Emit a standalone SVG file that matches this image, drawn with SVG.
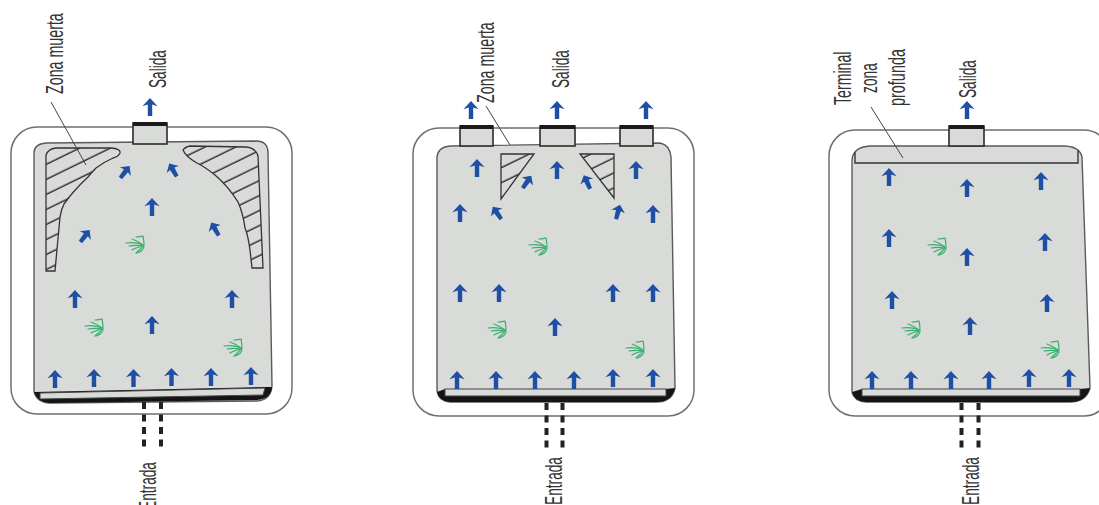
<svg xmlns="http://www.w3.org/2000/svg" width="1099" height="505" viewBox="0 0 1099 505">
<style>
.outer{fill:#fff;stroke:#6f6f6f;stroke-width:1.5}
.body{fill:#d9dbd8;stroke:#5a5a5a;stroke-width:1.4}
.port{fill:#d9dbd8;stroke:#2b2b2b;stroke-width:1.6}
.cap{fill:#1a1a1a}
.base{fill:#141414}
.strip{fill:#d9dbd8;stroke:#444;stroke-width:1}
.zone{fill:url(#hatch);stroke:#333;stroke-width:1.3}
.term{fill:#d9dbd8;stroke:#333;stroke-width:1.4}
.lead{fill:none;stroke:#444;stroke-width:1}
.pipe{fill:none;stroke:#222;stroke-width:4;stroke-dasharray:7 5.5}
.arrow{fill:#1f4ea5}
.tuft{fill:none;stroke:#35b06c;stroke-width:1.2;stroke-linecap:round}
text{font-family:"Liberation Sans",Arial,sans-serif;font-size:23px;fill:#333}
</style>
<defs>
<path id="up" d="M0-9 L7.6-.8 L2.2-2.4 L2.2 9 L-2.200 9 L-2.200-2.400 L-7.600-.8Z"/>
<path id="tilt" d="M0-7.500 L7-.5 L2.500-1.500 L2 7.500 L-2 7.500 L-2.500-1.500 L-7-.5Z"/>
<g id="gr">
<path d="M-9-2 C-3-3 3-2 8 0"/>
<path d="M-3-6 C0-5 4-3 8 0"/>
<path d="M-6 1 C-1 0 3 0 8 1"/>
<path d="M-3 5 C0 3 4 2 8 1"/>
<path d="M1 8 C3 6 6 4 8 1"/>
<path d="M1-8 C4-8 7-9 8-9 C9-5 9-2 9 1 C9 4 6 7 2 8"/>
</g>
<pattern id="hatch" width="40" height="13.500" patternUnits="userSpaceOnUse" patternTransform="rotate(-26)">
<rect width="40" height="13.500" fill="#d9dbd8"/>
<line x1="0" y1="6" x2="40" y2="6" stroke="#2e2e2e" stroke-width="1.3"/>
</pattern>
</defs>
<rect width="1099" height="505" fill="#fff"/>

<g id="tank-1">
<rect class="outer" x="11" y="127" width="281" height="287" rx="26"/>
<path class="body" d="M34 153 Q34 144 46 143 L256 141 Q268 141 268 153 L272 386 Q271 400 257 401 L50 403 Q36 402 34 391Z"/>
<path class="base" d="M34 392 L265 387 L272 387 Q271 399 257 400 L50 403 Q37 402 34 392Z"/>
<path class="strip" d="M40 393 L265 388 L263 395 L40 399Z"/>
<g id="t1-dead-left"><path class="zone" d="M46 155 Q48 149 56 148 L112 148 Q121 149 120 153 Q118 157 113 158 Q104 162 96 168 Q92 172 88 177 Q74 190 64 204 Q61 210 60 217 L55 271 L46 271Z"/></g>
<g id="t1-dead-right"><path class="zone" d="M183 150 Q185 147 190 146 L246 147 Q256 148 258 156 L263 268 L252 268 L250 250 Q248 235 245 228 Q243 213 238 202 Q228 186 215 175 Q205 167 197 163 Q186 157 183 150Z"/></g>
<g id="t1-outlet"><rect class="port" x="133" y="123" width="34" height="21"/><rect class="cap" x="133" y="122" width="34" height="4"/></g>
<g class="arrow">
<use href="#up" transform="translate(150 107)"/>
<use href="#tilt" transform="translate(125 172) rotate(38)"/>
<use href="#tilt" transform="translate(173 170) rotate(-30)"/>
<use href="#up" transform="translate(152 207)"/>
<use href="#tilt" transform="translate(85 236) rotate(38)"/>
<use href="#tilt" transform="translate(215 229) rotate(-30)"/>
<use href="#up" transform="translate(75 299)"/>
<use href="#up" transform="translate(232 299)"/>
<use href="#up" transform="translate(152 325)"/>
<use href="#up" transform="translate(55 379)"/>
<use href="#up" transform="translate(94 378)"/>
<use href="#up" transform="translate(133.500 378)"/>
<use href="#up" transform="translate(171.500 377)"/>
<use href="#up" transform="translate(211 377)"/>
<use href="#up" transform="translate(251 376)"/>
</g>
<g class="tuft">
<use href="#gr" transform="translate(135 245)"/>
<use href="#gr" transform="translate(94 328)"/>
<use href="#gr" transform="translate(233 348)"/>
</g>
<text transform="translate(63 94) rotate(-90) scale(.62 1)">Zona muerta</text>
<text transform="translate(166 88) rotate(-90) scale(.594 1)">Salida</text>
<text transform="translate(156 510) rotate(-90) scale(.596 1)">Entrada</text>
</g>

<g id="tank-2">
<rect class="outer" x="413" y="128" width="281" height="288" rx="26"/>
<path class="body" d="M437 157 Q438 147 450 146 L660 143 Q670 145 671 157 L675 388 Q672 402 656 402 L450 402 Q438 401 437 390Z"/>
<path class="base" d="M437 392 L445 389 L666 389 L675 388 Q672 402 656 402 L450 402 Q439 401 437 392Z"/>
<rect class="strip" x="445" y="389" width="221" height="7"/>
<g id="t2-dead-left"><path class="zone" d="M501 154 L534 154 L501 199Z"/></g>
<g id="t2-dead-right"><path class="zone" d="M580 154 L614 154 L614 198Z"/></g>
<g id="t2-outlet-1"><rect class="port" x="460" y="126" width="33" height="20"/><rect class="cap" x="460" y="125" width="33" height="4"/></g>
<g id="t2-outlet-2"><rect class="port" x="540" y="126" width="35" height="20"/><rect class="cap" x="540" y="125" width="35" height="4"/></g>
<g id="t2-outlet-3"><rect class="port" x="620" y="126" width="33" height="20"/><rect class="cap" x="620" y="125" width="33" height="4"/></g>
<g class="arrow">
<use href="#up" transform="translate(471 110)"/>
<use href="#up" transform="translate(557 110)"/>
<use href="#up" transform="translate(646 110)"/>
<use href="#up" transform="translate(477 168)"/>
<use href="#up" transform="translate(557 170)"/>
<use href="#up" transform="translate(636 170)"/>
<use href="#tilt" transform="translate(527 182) rotate(35)"/>
<use href="#tilt" transform="translate(587 182) rotate(-25)"/>
<use href="#up" transform="translate(460 213)"/>
<use href="#tilt" transform="translate(497 213) rotate(-35)"/>
<use href="#tilt" transform="translate(618 212) rotate(15)"/>
<use href="#up" transform="translate(653 214)"/>
<use href="#up" transform="translate(460 293)"/>
<use href="#up" transform="translate(499 293)"/>
<use href="#up" transform="translate(613 293)"/>
<use href="#up" transform="translate(653 293)"/>
<use href="#up" transform="translate(555 327)"/>
<use href="#up" transform="translate(457 380)"/>
<use href="#up" transform="translate(496 380)"/>
<use href="#up" transform="translate(535 380)"/>
<use href="#up" transform="translate(574 380)"/>
<use href="#up" transform="translate(613 378)"/>
<use href="#up" transform="translate(653 378)"/>
</g>
<g class="tuft">
<use href="#gr" transform="translate(538 247)"/>
<use href="#gr" transform="translate(497 330)"/>
<use href="#gr" transform="translate(635 350)"/>
</g>
<text transform="translate(494 103) rotate(-90) scale(.62 1)">Zona muerta</text>
<text transform="translate(569 88) rotate(-90) scale(.594 1)">Salida</text>
<text transform="translate(562 505) rotate(-90) scale(.596 1)">Entrada</text>
</g>

<g id="tank-3">
<rect class="outer" x="829" y="130" width="281" height="286" rx="26"/>
<path class="body" d="M852 160 Q853 147 870 146 L1065 146 Q1080 147 1082 157 L1090 388 Q1086 402 1070 402 L866 402 Q854 401 852 392Z"/>
<path class="base" d="M852 392 L862 389 L1080 389 L1090 388 Q1086 402 1070 402 L866 402 Q854 401 852 392Z"/>
<rect class="strip" x="862" y="389" width="218" height="7"/>
<g id="t3-terminal"><path class="term" d="M855 152 L855 163 L1078 163 L1078 150"/></g>
<g id="t3-outlet"><rect class="port" x="949" y="126" width="35" height="20"/><rect class="cap" x="949" y="125" width="35" height="4"/></g>
<g class="arrow">
<use href="#up" transform="translate(967 110)"/>
<use href="#up" transform="translate(889 177)"/>
<use href="#up" transform="translate(967 188)"/>
<use href="#up" transform="translate(1041 181)"/>
<use href="#up" transform="translate(889 238)"/>
<use href="#up" transform="translate(967 257)"/>
<use href="#up" transform="translate(1045 242)"/>
<use href="#up" transform="translate(892 300)"/>
<use href="#up" transform="translate(970 326)"/>
<use href="#up" transform="translate(1047 303)"/>
<use href="#up" transform="translate(872 380)"/>
<use href="#up" transform="translate(911 380)"/>
<use href="#up" transform="translate(951 380)"/>
<use href="#up" transform="translate(989 380)"/>
<use href="#up" transform="translate(1029 378)"/>
<use href="#up" transform="translate(1069 378)"/>
</g>
<g class="tuft">
<use href="#gr" transform="translate(937 247)"/>
<use href="#gr" transform="translate(911 330)"/>
<use href="#gr" transform="translate(1050 350)"/>
</g>
<text transform="translate(851 105) rotate(-90) scale(.615 1)">Terminal</text>
<text transform="translate(877 93) rotate(-90) scale(.6 1)">zona</text>
<text transform="translate(905 106) rotate(-90) scale(.628 1)">profunda</text>
<text transform="translate(976 98) rotate(-90) scale(.594 1)">Salida</text>
<text transform="translate(979 505) rotate(-90) scale(.596 1)">Entrada</text>
</g>

<g id="connectors">
<path class="lead" d="M51 102 L86 165"/>
<path class="lead" d="M486 106 L510 145"/>
<path class="lead" d="M871 107 L903 158"/>
<path class="pipe" d="M144 402 V449"/>
<path class="pipe" d="M161 402 V449"/>
<path class="pipe" d="M546.500 403 V450"/>
<path class="pipe" d="M562.500 403 V450"/>
<path class="pipe" d="M961.500 403 V450"/>
<path class="pipe" d="M978.500 403 V450"/>
</g>
</svg>
